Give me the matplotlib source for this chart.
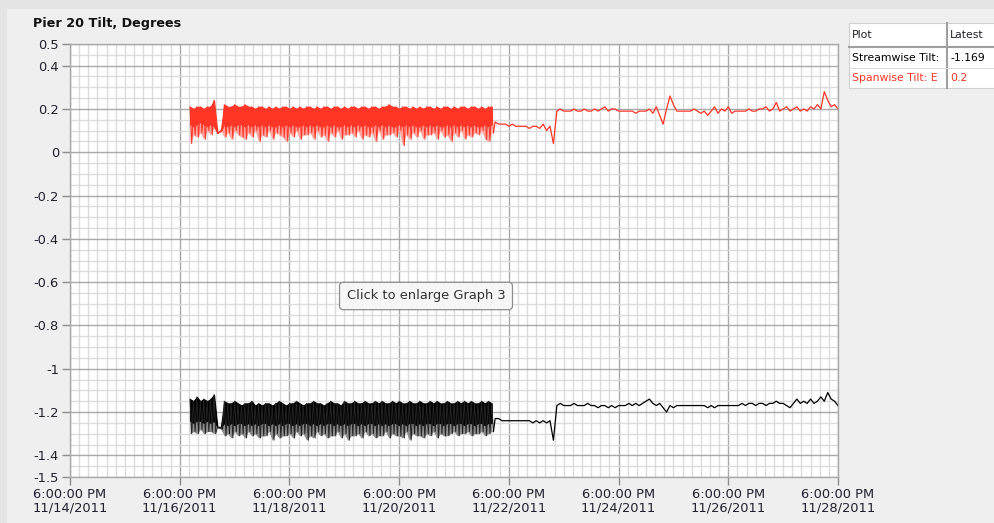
import matplotlib
matplotlib.use("Agg")
import matplotlib.pyplot as plt
import matplotlib.dates as mdates
from matplotlib.ticker import MultipleLocator, FixedLocator
from matplotlib.patches import Rectangle
import numpy as np
import pandas as pd

# ---- data -------------------------------------------------------------
# noisy block, one reading every 90 min:
#   *_hi    = top of the oscillation
#   *_floor = bottom of the dense part of the oscillation
#   *_lo    = deepest dip (taken 45 min after the top)
noisy_start = "2011-11-16 22:30"
red_hi = [0.21, 0.20, 0.21, 0.21, 0.20, 0.21, 0.21, 0.24,
          0.09, 0.10,
          0.22, 0.21, 0.21, 0.22, 0.21, 0.21, 0.22, 0.21, 0.21, 0.20,
          0.21, 0.21, 0.20, 0.21, 0.20, 0.21, 0.20, 0.21, 0.21, 0.20,
          0.21, 0.20, 0.21, 0.20, 0.21, 0.21, 0.20, 0.21, 0.20, 0.21,
          0.21, 0.20, 0.21, 0.21, 0.20, 0.21, 0.20, 0.21, 0.21, 0.20,
          0.21, 0.21, 0.20, 0.21, 0.21, 0.20, 0.21, 0.21, 0.22, 0.21,
          0.21, 0.20, 0.21, 0.21, 0.20, 0.21, 0.20, 0.21, 0.20, 0.21,
          0.21, 0.20, 0.21, 0.20, 0.21, 0.21, 0.20, 0.21, 0.20, 0.21,
          0.21, 0.20, 0.21, 0.21, 0.20, 0.21, 0.20, 0.21, 0.21]
red_floor = [0.13, 0.12, 0.13, 0.14, 0.13, 0.12, 0.13, 0.12,
             0.09, 0.10,
             0.13, 0.12, 0.13, 0.12, 0.13, 0.13, 0.12, 0.13, 0.12, 0.13,
             0.12, 0.13, 0.12, 0.13, 0.12, 0.12, 0.13, 0.12, 0.13, 0.12,
             0.13, 0.12, 0.12, 0.13, 0.12, 0.13, 0.12, 0.13, 0.12, 0.12,
             0.13, 0.12, 0.13, 0.12, 0.12, 0.13, 0.12, 0.13, 0.12, 0.13,
             0.12, 0.13, 0.12, 0.12, 0.13, 0.12, 0.13, 0.12, 0.13, 0.12,
             0.12, 0.13, 0.12, 0.13, 0.12, 0.13, 0.12, 0.12, 0.13, 0.12,
             0.13, 0.12, 0.13, 0.12, 0.12, 0.13, 0.12, 0.13, 0.12, 0.13,
             0.12, 0.13, 0.12, 0.13, 0.12, 0.12, 0.13, 0.12, 0.13]
red_lo = [0.04, 0.08, 0.07, 0.09, 0.06, 0.10, 0.08, 0.11,
          0.09, 0.10,
          0.07, 0.09, 0.06, 0.10, 0.08, 0.07, 0.06, 0.09, 0.07, 0.10,
          0.05, 0.08, 0.07, 0.10, 0.06, 0.09, 0.08, 0.07, 0.05, 0.09,
          0.07, 0.10, 0.06, 0.08, 0.08, 0.09, 0.06, 0.10, 0.07, 0.08,
          0.05, 0.09, 0.07, 0.10, 0.06, 0.08, 0.08, 0.09, 0.07, 0.10,
          0.06, 0.08, 0.07, 0.09, 0.05, 0.10, 0.06, 0.08, 0.08, 0.09,
          0.07, 0.10, 0.03, 0.08, 0.06, 0.09, 0.07, 0.10, 0.06, 0.08,
          0.08, 0.09, 0.06, 0.10, 0.07, 0.08, 0.05, 0.09, 0.07, 0.10,
          0.06, 0.08, 0.07, 0.09, 0.08, 0.10, 0.06, 0.05, 0.09]
blk_hi = [-1.14, -1.15, -1.13, -1.15, -1.14, -1.15, -1.14, -1.12,
          -1.27, -1.27,
          -1.15, -1.16, -1.16, -1.15, -1.16, -1.17, -1.16, -1.16, -1.15, -1.17,
          -1.16, -1.17, -1.16, -1.16, -1.17, -1.16, -1.15, -1.16, -1.17, -1.16,
          -1.16, -1.15, -1.16, -1.17, -1.16, -1.16, -1.15, -1.16, -1.16, -1.17,
          -1.16, -1.15, -1.16, -1.16, -1.17, -1.15, -1.16, -1.16, -1.15, -1.16,
          -1.16, -1.15, -1.16, -1.16, -1.15, -1.16, -1.15, -1.16, -1.16, -1.15,
          -1.16, -1.15, -1.16, -1.16, -1.15, -1.16, -1.16, -1.15, -1.16, -1.16,
          -1.15, -1.16, -1.15, -1.16, -1.16, -1.15, -1.16, -1.16, -1.15, -1.16,
          -1.15, -1.16, -1.15, -1.16, -1.16, -1.15, -1.16, -1.15, -1.16]
blk_floor = [-1.24, -1.25, -1.24, -1.24, -1.25, -1.24, -1.25, -1.24,
             -1.27, -1.27,
             -1.25, -1.26, -1.25, -1.26, -1.25, -1.25, -1.26, -1.25, -1.26, -1.25,
             -1.26, -1.25, -1.25, -1.26, -1.25, -1.26, -1.25, -1.26, -1.25, -1.25,
             -1.26, -1.25, -1.26, -1.25, -1.25, -1.26, -1.25, -1.26, -1.25, -1.26,
             -1.25, -1.25, -1.26, -1.25, -1.26, -1.25, -1.26, -1.25, -1.25, -1.26,
             -1.25, -1.26, -1.25, -1.25, -1.26, -1.25, -1.26, -1.25, -1.26, -1.25,
             -1.25, -1.26, -1.25, -1.26, -1.25, -1.25, -1.26, -1.25, -1.26, -1.25,
             -1.25, -1.26, -1.25, -1.25, -1.26, -1.25, -1.25, -1.26, -1.25, -1.25,
             -1.26, -1.25, -1.25, -1.26, -1.25, -1.25, -1.26, -1.25, -1.25]
blk_lo = [-1.30, -1.29, -1.30, -1.28, -1.30, -1.29, -1.29, -1.30,
          -1.27, -1.28,
          -1.31, -1.30, -1.32, -1.29, -1.31, -1.30, -1.32, -1.29, -1.31, -1.30,
          -1.32, -1.31, -1.31, -1.29, -1.33, -1.30, -1.32, -1.31, -1.31, -1.30,
          -1.32, -1.29, -1.31, -1.30, -1.33, -1.31, -1.32, -1.29, -1.31, -1.30,
          -1.32, -1.31, -1.31, -1.29, -1.32, -1.30, -1.33, -1.31, -1.31, -1.30,
          -1.32, -1.29, -1.31, -1.30, -1.32, -1.31, -1.31, -1.29, -1.32, -1.30,
          -1.31, -1.31, -1.32, -1.29, -1.33, -1.30, -1.31, -1.31, -1.32, -1.30,
          -1.31, -1.29, -1.32, -1.30, -1.31, -1.31, -1.30, -1.29, -1.31, -1.30,
          -1.30, -1.29, -1.31, -1.30, -1.30, -1.29, -1.31, -1.30, -1.29]

# quieter readings after the noisy block, every 90 min
quiet_start = "2011-11-22 12:00"
red_quiet = [0.14, 0.13, 0.13, 0.13, 0.12, 0.13, 0.12, 0.12, 0.12, 0.12,
             0.11, 0.12, 0.12, 0.11, 0.13, 0.10, 0.12, 0.04,
             0.19, 0.20, 0.19, 0.19, 0.19, 0.20, 0.19, 0.19, 0.20, 0.19,
             0.19, 0.20, 0.19, 0.20, 0.21, 0.19, 0.20, 0.20, 0.19, 0.19,
             0.19, 0.19, 0.19, 0.18, 0.19, 0.19, 0.19, 0.20, 0.18, 0.21,
             0.17, 0.13, 0.20, 0.26, 0.22, 0.19, 0.19, 0.19, 0.19, 0.19,
             0.20, 0.19, 0.18, 0.19, 0.17, 0.19, 0.21, 0.18, 0.20, 0.19,
             0.21, 0.18, 0.19, 0.19, 0.19, 0.19, 0.20, 0.19, 0.19, 0.20,
             0.20, 0.21, 0.19, 0.20, 0.23, 0.19, 0.20, 0.21, 0.19, 0.20,
             0.21, 0.19, 0.20, 0.19, 0.21, 0.20, 0.22, 0.20, 0.28, 0.24,
             0.21, 0.22, 0.20]
blk_quiet = [-1.23, -1.23, -1.24, -1.24, -1.24, -1.24, -1.24, -1.24, -1.24, -1.24,
             -1.24, -1.25, -1.24, -1.25, -1.24, -1.25, -1.24, -1.33,
             -1.17, -1.16, -1.17, -1.17, -1.17, -1.16, -1.17, -1.17, -1.17, -1.16,
             -1.17, -1.17, -1.18, -1.17, -1.17, -1.18, -1.17, -1.18, -1.17, -1.17,
             -1.17, -1.16, -1.17, -1.16, -1.17, -1.16, -1.15, -1.14, -1.16, -1.17,
             -1.16, -1.18, -1.20, -1.17, -1.18, -1.17, -1.17, -1.17, -1.17, -1.17,
             -1.17, -1.17, -1.17, -1.17, -1.18, -1.17, -1.18, -1.17, -1.17, -1.17,
             -1.17, -1.17, -1.17, -1.17, -1.16, -1.17, -1.16, -1.16, -1.17, -1.16,
             -1.16, -1.17, -1.16, -1.16, -1.15, -1.16, -1.16, -1.17, -1.18, -1.16,
             -1.14, -1.16, -1.15, -1.16, -1.14, -1.16, -1.15, -1.13, -1.15, -1.11,
             -1.14, -1.15, -1.17]

x_ticks = pd.date_range("2011-11-14 18:00", "2011-11-28 18:00", freq="2D")
y_ticks = [0.5, 0.4, 0.2, 0, -0.2, -0.4, -0.6, -0.8, -1, -1.2, -1.4, -1.5]
y_labels = ["0.5", "0.4", "0.2", "0", "-0.2", "-0.4", "-0.6", "-0.8",
            "-1", "-1.2", "-1.4", "-1.5"]

table_rows = [("Plot", "Latest"),
              ("Streamwise Tilt:", "-1.169"),
              ("Spanwise Tilt: E", "0.2")]

# ---- build time axis ----------------------------------------------------
hi_t = pd.date_range(noisy_start, periods=len(red_hi), freq="90min")
lo_t = hi_t + pd.Timedelta(minutes=45)
noisy_t = np.column_stack([hi_t.values, lo_t.values]).ravel()
quiet_t = pd.date_range(quiet_start, periods=len(red_quiet), freq="90min").values

red_zig = np.column_stack([red_hi, red_lo]).ravel()
blk_zig = np.column_stack([blk_hi, blk_lo]).ravel()

RED = "#ff3526"
TXT = "#20202e"

fig = plt.figure(figsize=(9.95, 5.23), dpi=100, facecolor="#efefef")
fig.patches.append(Rectangle((0, 1 - 9/523), 1, 9/523, transform=fig.transFigure,
                             fc="#e4e4e4", ec="none", zorder=0))
fig.patches.append(Rectangle((0, 0), 7/995, 1, transform=fig.transFigure,
                             fc="#e4e4e4", ec="none", zorder=0))

ax = fig.add_axes([70/995, 46/523, 768/995, 433/523])
ax.set_facecolor("white")

# red: spanwise
ax.fill_between(hi_t, red_floor, red_lo, color="#ffa59e", lw=0)
ax.plot(noisy_t, red_zig, color=RED, lw=0.7)
ax.fill_between(hi_t, red_hi, red_floor, color=RED, lw=0.8, ec=RED)
ax.plot(np.concatenate([noisy_t[-1:], quiet_t]),
        np.concatenate([red_zig[-1:], red_quiet]), color=RED, lw=0.9)
# black: streamwise
ax.fill_between(hi_t, blk_floor, blk_lo, color="#8c8c8c", lw=0)
ax.plot(noisy_t, blk_zig, color="#222222", lw=0.7)
ax.fill_between(hi_t, blk_hi, blk_floor, color="black", lw=0.8, ec="black")
ax.plot(np.concatenate([noisy_t[-1:], quiet_t]),
        np.concatenate([blk_zig[-1:], blk_quiet]), color="black", lw=0.9)

ax.set_xlim(x_ticks[0], x_ticks[-1])
ax.set_ylim(-1.5, 0.5)

ax.xaxis.set_major_locator(FixedLocator(mdates.date2num(x_ticks)))
ax.xaxis.set_major_formatter(mdates.DateFormatter("%-I:%M:%S %p\n%m/%d/%Y"))
ax.xaxis.set_minor_locator(mdates.HourLocator(byhour=[2, 6, 10, 14, 18, 22]))
ax.set_yticks(y_ticks)
ax.set_yticklabels(y_labels)
ax.yaxis.set_minor_locator(MultipleLocator(0.05))

ax.set_axisbelow(True)
ax.grid(which="major", color="#a9a9a9", lw=1.0)
ax.grid(which="minor", color="#dcdcdc", lw=1.0)
for s in ax.spines.values():
    s.set_color("#a9a9a9")
    s.set_linewidth(1.0)

ax.tick_params(which="major", length=6, width=1, color="#8c8c8c",
               labelsize=9.4, labelcolor=TXT, pad=2)
ax.tick_params(which="minor", length=0)
for lab in ax.get_xticklabels():
    lab.set_linespacing(1.05)

fig.text(33/995, 1 - 24/523, "Pier 20 Tilt, Degrees", fontsize=9.2,
         fontweight="bold", color="#111111", va="center", ha="left")

fig.text(426/995, 1 - 296/523, "Click to enlarge Graph 3", fontsize=9.4,
         color="#333333", ha="center", va="center",
         bbox=dict(boxstyle="round,pad=0.55,rounding_size=0.3", fc="#f6f6f6",
                   ec="#8e8e8e", lw=0.9))

# ---- latest-value table -------------------------------------------------
tab = fig.add_axes([848/995, 1 - 90/523, 147/995, 68/523])
tab.set_xlim(848, 995)
tab.set_ylim(90, 22)
tab.axis("off")
tab.add_patch(Rectangle((849, 23), 146, 65, fc="white", ec="#d0d0d0", lw=0.8))
tab.plot([947, 947], [23, 88], color="#a0a0a0", lw=1.5)
tab.plot([849, 995], [46.5, 46.5], color="#a0a0a0", lw=1.5)
tab.plot([849, 995], [68, 68], color="#dddddd", lw=0.8)
row_y = [34.5, 58, 78]
row_c = [TXT, "black", RED]
for (name, val), yy, cc in zip(table_rows, row_y, row_c):
    tab.text(852, yy, name, fontsize=7.8, color=cc, va="center", ha="left")
    tab.text(950, yy, val, fontsize=7.8, color=cc, va="center", ha="left")

fig.savefig("out.png", dpi=100, facecolor=fig.get_facecolor())
